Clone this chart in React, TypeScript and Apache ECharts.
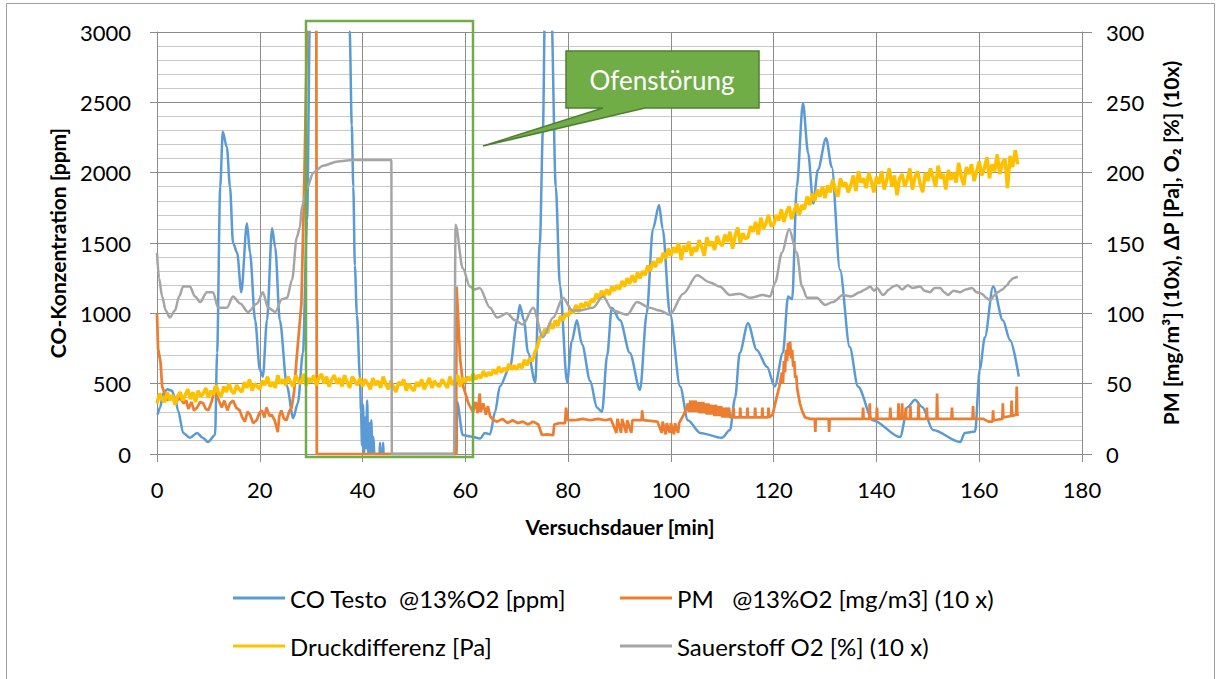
import React, { useEffect, useRef } from 'react';
import * as echarts from 'echarts';

// ---------- data (x = Versuchsdauer [min]) ----------
const seriesNames = [
  'CO Testo  @13%O2 [ppm]',
  'PM   @13%O2 [mg/m3] (10 x)',
  'Druckdifferenz [Pa]',
  'Sauerstoff O2 [%] (10 x)',
];
const seriesColors = ['#5B9BD5', '#ED7D31', '#FFC000', '#A5A5A5'];

const xTicks = { min: 0, max: 180, interval: 20 };
const leftTicks = { min: 0, max: 3000, interval: 500 };
const rightTicks = { min: 0, max: 300, interval: 50 };

// CO [ppm] (left axis); values above 3000 leave the plot
const coTesto: [number, number][] = [
  [0.1, 280], [0.6, 330], [1.2, 430], [2.0, 460], [2.9, 450], [3.5, 400], [4.1, 310], [5.1, 150],
  [6.4, 115], [7.8, 150], [8.9, 115], [9.9, 85], [11.3, 135], [11.7, 720], [12.3, 1900], [12.8, 2290],
  [13.6, 2180], [14.2, 1900], [14.8, 1500], [15.6, 1430], [16.4, 1150], [17.5, 1640], [18.1, 1430],
  [19.1, 950], [20.0, 600], [20.6, 550], [21.4, 950], [22.4, 1605], [23.0, 1470], [23.9, 950],
  [25.3, 480], [26.5, 255], [27.4, 360], [28.4, 720], [29.2, 1660], [29.8, 3200], [33.0, 3200],
  [37.2, 3200], [37.5, 3000], [37.9, 2340], [38.2, 1900], [38.5, 1340], [38.9, 990], [39.5, 540],
  [39.7, 300], [39.9, 60], [40.1, 350], [40.3, 0], [40.5, 260], [40.7, 40], [40.9, 380], [41.1, 0],
  [41.3, 220], [41.5, 0], [41.7, 240], [41.9, 0], [42.1, 120], [42.3, 0], [43.3, 0], [43.4, 80],
  [43.5, 0], [43.9, 0], [44.0, 80], [44.1, 0], [58.3, 0], [58.4, 370], [59.5, 135], [61.0, 125],
  [62.9, 110], [63.8, 150], [64.8, 140], [65.8, 300], [66.7, 480], [68.7, 620], [70.1, 950],
  [70.6, 1060], [71.4, 950], [72.2, 720], [73.6, 510], [74.5, 1500], [75.1, 2300], [75.5, 3200],
  [76.7, 3200], [77.6, 1900], [78.4, 1200], [79.8, 510], [80.7, 800], [81.7, 950], [82.7, 780],
  [84.3, 520], [85.6, 330], [86.6, 300], [87.6, 700], [88.5, 1040], [90.1, 950], [92.0, 720],
  [94.0, 455], [95.3, 1000], [96.5, 1600], [97.7, 1770], [98.4, 1600], [99.8, 1000], [101.8, 480],
  [103.3, 240], [105.7, 150], [109.9, 115], [111.5, 170], [112.5, 400], [113.4, 720], [115.0, 930],
  [116.7, 740], [118.7, 620], [120.2, 480], [121.8, 720], [122.8, 1120], [123.6, 1100], [124.5, 1900],
  [125.7, 2495], [126.7, 2140], [127.7, 1780], [128.6, 2020], [130.2, 2245], [131.3, 2040],
  [132.9, 1310], [134.8, 760], [136.4, 480], [139.3, 240], [144.6, 120], [146.1, 335], [147.5, 385],
  [148.9, 335], [151.0, 170], [156.3, 85], [157.2, 150], [159.2, 160], [160.1, 600], [161.1, 830],
  [162.7, 1190], [164.6, 950], [166.0, 810], [167.7, 550],
];

// PM x10 (right axis)
const pm: [number, number][] = [
  [0, 100], [0.2, 75], [0.7, 65], [1.0, 48], [1.3, 45], [2.0, 38], [2.5, 41], [3.2, 40], [3.7, 37],
  [4.4, 40], [5.2, 36], [5.7, 38], [6.1, 32], [6.7, 37], [7.2, 31], [7.8, 33], [8.4, 37], [9.0, 36],
  [9.5, 32], [10.0, 31], [10.7, 38], [11.3, 48], [11.8, 40], [12.6, 33], [13.1, 38], [13.7, 31],
  [14.2, 36], [14.8, 38], [15.4, 33], [16.1, 31], [16.6, 26], [17.1, 23], [17.6, 30], [18.1, 28],
  [18.7, 22], [19.4, 24], [19.9, 29], [20.4, 31], [20.9, 26], [21.3, 33], [21.9, 27], [22.3, 28],
  [22.9, 24], [23.5, 15.6], [23.8, 27], [24.2, 31], [24.7, 25], [25.2, 24], [25.7, 30], [26.2, 33],
  [26.7, 45], [27.1, 65], [27.7, 90], [28.1, 107], [28.7, 200], [29.3, 320], [31.0, 320], [31.1, 0],
  [58.2, 0], [58.3, 119], [59.0, 67], [59.6, 48], [60.6, 36], [61.5, 30], [62.0, 37], [62.4, 29],
  [62.8, 43], [63.0, 30], [63.5, 36], [64.0, 28], [64.4, 34], [64.8, 27], [65.5, 24], [66.2, 23],
  [67.2, 25], [68.2, 22], [69.2, 24], [70.2, 22], [71.2, 23], [72.2, 21], [73.2, 23], [74.2, 21],
  [74.9, 13.5], [75.8, 14], [77.1, 13.5], [77.3, 21], [78.3, 22], [79.4, 22], [79.6, 33], [79.9, 24],
  [81.3, 24], [82.8, 25], [84.3, 24], [85.8, 25], [87.3, 24], [88.3, 25], [89.4, 15], [89.6, 25],
  [90.3, 15], [90.5, 25], [91.3, 15], [91.5, 24], [92.3, 15], [92.5, 24], [94.3, 24], [94.4, 31],
  [94.6, 24], [97.4, 23], [98.2, 15], [98.4, 23], [99.0, 14], [99.2, 22], [99.8, 15], [100.0, 22],
  [100.6, 14], [100.8, 22], [101.4, 15], [101.6, 22], [102.5, 28], [103.1, 33], [103.3, 36],
  [103.5, 30], [103.8, 38], [104.0, 30], [104.3, 38], [104.5, 30], [104.8, 38], [105.0, 30],
  [105.3, 37], [105.5, 29], [105.8, 37], [106.0, 29], [106.3, 37], [106.5, 29], [106.8, 36],
  [107.0, 28], [107.3, 36], [107.5, 28], [107.8, 35], [108.0, 28], [108.3, 35], [108.5, 27],
  [108.8, 35], [109.0, 27], [109.3, 34], [109.5, 27], [109.8, 34], [110.0, 26], [110.3, 33],
  [110.5, 26], [110.8, 33], [111.0, 26], [111.3, 33], [111.5, 26], [112.1, 26], [112.2, 33],
  [112.3, 26], [113.4, 26], [113.5, 33], [113.6, 26], [114.8, 26], [114.9, 33], [115.0, 26],
  [116.3, 26], [116.4, 33], [116.5, 26], [117.7, 26], [117.8, 33], [117.9, 26], [118.9, 26],
  [119.0, 33], [119.1, 26], [119.8, 28], [120.3, 36], [121.1, 48], [121.6, 58], [121.8, 50],
  [122.0, 66], [122.2, 58], [122.4, 74], [122.6, 66], [122.8, 79], [123.0, 70], [123.2, 80],
  [123.4, 68], [123.6, 74], [123.8, 62], [124.0, 66], [124.2, 54], [124.4, 56], [124.6, 46],
  [125.1, 36], [125.6, 30], [126.1, 26], [127.1, 25], [128.0, 25], [128.1, 15.6], [128.2, 25],
  [130.7, 25], [130.8, 15.6], [130.9, 25], [137.3, 25], [137.4, 33], [137.5, 25], [138.6, 25],
  [138.7, 36], [138.8, 25], [140.0, 25], [140.1, 33], [140.2, 25], [142.6, 25], [142.7, 33],
  [142.8, 25], [144.2, 25], [144.3, 36], [144.4, 25], [144.9, 25], [145.0, 36], [145.1, 25],
  [145.6, 25], [145.7, 33], [145.8, 25], [146.5, 25], [146.6, 34], [146.7, 25], [148.1, 25],
  [148.2, 36], [148.3, 25], [149.7, 25], [149.8, 33], [149.9, 25], [151.7, 25], [151.8, 43],
  [151.9, 25], [154.6, 25], [154.7, 33], [154.8, 25], [158.7, 25], [158.8, 34], [158.9, 25],
  [160.8, 25], [161.8, 23], [162.6, 23], [162.7, 31], [162.8, 24], [164.5, 25], [164.6, 36],
  [164.7, 26], [166.2, 27], [166.3, 38], [166.4, 27], [167.2, 28], [167.3, 48], [167.4, 28],
  [167.7, 28],
];

// Druckdifferenz [Pa] (right axis), one reading every 0.5 min from 0 min
const druckStep = 0.5;
const druck: number[] = [
  36, 43, 39, 37, 44, 38, 42, 35, 41, 44,
  38, 42, 46, 39, 44, 37, 45, 41, 43, 47,
  40, 45, 42, 49, 43, 41, 48, 44, 50, 45,
  43, 49, 46, 44, 51, 47, 53, 45, 50, 48,
  46, 52, 49, 55, 48, 51, 47, 56, 50, 53,
  49, 55, 51, 48, 56, 52, 50, 57, 49, 54,
  51, 56, 49, 54, 57, 50, 55, 48, 53, 56,
  50, 54, 48, 56, 51, 47, 55, 52, 49, 54,
  48, 53, 50, 46, 54, 49, 52, 47, 55, 50,
  46, 52, 48, 44, 51, 49, 53, 45, 50, 47,
  45, 51, 48, 53, 46, 50, 54, 47, 52, 49,
  48, 53, 50, 47, 55, 49, 52, 56, 48, 54,
  51, 55, 52, 57, 53, 56, 54, 59, 55, 58,
  56, 60, 57, 62, 58, 61, 59, 64, 60, 63,
  60, 64, 61, 67, 63, 68, 66, 72, 76, 83,
  84, 89, 86, 93, 89, 95, 91, 98, 95, 100,
  98, 103, 100, 106, 101, 107, 104, 108, 105, 110,
  108, 114, 110, 116, 112, 117, 113, 119, 116, 120,
  117, 123, 119, 125, 121, 127, 122, 129, 125, 130,
  127, 134, 130, 137, 133, 139, 136, 143, 139, 146,
  141, 147, 143, 150, 138, 148, 144, 151, 141, 147,
  144, 152, 147, 141, 154, 148, 151, 145, 155, 150,
  148, 156, 151, 158, 146, 155, 161, 150, 157, 153,
  154, 162, 158, 165, 156, 168, 160, 164, 170, 162,
  163, 170, 166, 174, 165, 172, 176, 167, 173, 178,
  170, 177, 174, 183, 177, 185, 180, 188, 183, 190,
  182, 191, 186, 195, 188, 183, 196, 190, 193, 186,
  191, 198, 187, 201, 193, 196, 189, 200, 194, 186,
  197, 192, 201, 188, 195, 203, 190, 198, 184, 196,
  199, 190, 195, 203, 188, 197, 201, 192, 186, 200,
  194, 203, 197, 190, 205, 196, 199, 188, 202, 195,
  200, 193, 207, 197, 191, 204, 199, 206, 194, 201,
  208, 198, 203, 211, 196, 206, 201, 213, 199, 207,
  210, 189, 212, 204, 216, 206,
];

// Sauerstoff O2 x10 (right axis)
const sauerstoff: [number, number][] = [
  [0, 143], [0.4, 125], [1.0, 112], [1.7, 102], [2.5, 97], [3.5, 102], [4.3, 112], [5.1, 119],
  [6.4, 119], [7.4, 112], [8.4, 108], [9.7, 115], [10.9, 115], [11.9, 104], [13.6, 104], [14.8, 112],
  [16.2, 107], [17.7, 101], [19.5, 107], [20.6, 115], [21.6, 104], [23.0, 101], [24.3, 110],
  [25.3, 111], [26.3, 124], [27.2, 154], [27.8, 161], [28.2, 176], [29.2, 189], [30.4, 200],
  [32.3, 205], [35.2, 208], [38.0, 209], [45.6, 209], [45.7, 0], [57.8, 0], [58.1, 163], [59.5, 132],
  [60.9, 119], [61.8, 117], [62.8, 118], [64.8, 104], [66.2, 97], [68.1, 100], [69.7, 95], [71.2, 92],
  [73.2, 104], [75.1, 83], [77.1, 97], [79.0, 111], [80.8, 102], [82.3, 102], [84.8, 104],
  [86.8, 112], [88.7, 102], [91.5, 99], [93.4, 108], [95.9, 104], [97.8, 102], [99.8, 99],
  [102.4, 114], [105.1, 127], [107.6, 122], [109.5, 119], [111.5, 113], [113.4, 114], [115.4, 111],
  [117.9, 113], [119.3, 112], [120.3, 122], [121.6, 143], [123.0, 160], [124.5, 143], [125.5, 119],
  [126.5, 111], [128.4, 111], [130.0, 106], [131.5, 108], [133.5, 113], [135.0, 112], [136.8, 115],
  [137.8, 117], [138.8, 119], [139.5, 116], [140.1, 118], [141.3, 113], [142.5, 117], [143.2, 119],
  [144.0, 120], [145.0, 117], [146.1, 120], [147.0, 118], [148.5, 119], [149.4, 116], [150.4, 115],
  [151.3, 118], [152.4, 118], [153.2, 115], [153.9, 113], [155.0, 116], [156.3, 115], [157.4, 117],
  [158.6, 118], [159.5, 115], [160.5, 114], [161.4, 111], [162.1, 109], [163.0, 113], [163.6, 115],
  [164.5, 117], [165.4, 120], [166.0, 123], [166.6, 125], [167.5, 126],
];

const leftTitle = 'CO-Konzentration [ppm]';
const rightTitle = 'PM [mg/m³] (10x), ΔP [Pa], O₂ [%] (10x)';
const xTitle = 'Versuchsdauer [min]';
const calloutText = 'Ofenstörung';

const FONT = 'Lato, "Open Sans", sans-serif';
const GRID_MAJOR = '#8C8C8C';
const GRID_MINOR = '#C9C9C9';

export default function App() {
  const ref = useRef<HTMLDivElement | null>(null);

  useEffect(() => {
    if (!ref.current) return;
    const chart = echarts.init(ref.current, undefined, { renderer: 'svg' });

    const druckData = druck.map((v, i) => [i * druckStep, v]);
    const plain = (v: number) => String(v);

    const legendPos = [
      { left: 233, top: 586 },
      { left: 620, top: 586 },
      { left: 233, top: 634 },
      { left: 620, top: 634 },
    ];

    const option: any = {
      animation: false,
      backgroundColor: '#ffffff',
      grid: { left: 157, right: 136, top: 32, bottom: 225, containLabel: false },
      xAxis: {
        type: 'value',
        min: xTicks.min,
        max: xTicks.max,
        interval: xTicks.interval,
        axisLine: { show: true, lineStyle: { color: GRID_MAJOR, width: 1 } },
        axisTick: { show: true, length: 8, lineStyle: { color: GRID_MAJOR } },
        axisLabel: { fontSize: 22, fontFamily: FONT, color: '#000', margin: 24, formatter: plain },
        splitLine: { show: true, lineStyle: { color: GRID_MAJOR, width: 1 } },
      },
      yAxis: [
        {
          type: 'value',
          position: 'left',
          min: leftTicks.min,
          max: leftTicks.max,
          interval: leftTicks.interval,
          axisLine: { show: true, lineStyle: { color: GRID_MAJOR } },
          axisTick: { show: true, length: 7, lineStyle: { color: GRID_MAJOR } },
          minorTick: { show: false, splitNumber: 5 },
          axisLabel: { fontSize: 22, fontFamily: FONT, color: '#000', margin: 26, formatter: plain },
          splitLine: { show: true, lineStyle: { color: GRID_MAJOR, width: 1 } },
          minorSplitLine: { show: true, lineStyle: { color: GRID_MINOR, width: 1 } },
        },
        {
          type: 'value',
          position: 'right',
          min: rightTicks.min,
          max: rightTicks.max,
          interval: rightTicks.interval,
          axisLine: { show: true, lineStyle: { color: GRID_MAJOR } },
          axisTick: { show: true, length: 10, lineStyle: { color: GRID_MAJOR } },
          axisLabel: { fontSize: 22, fontFamily: FONT, color: '#000', margin: 24, formatter: plain },
          splitLine: { show: false },
        },
      ],
      legend: seriesNames.map((name, i) => ({
        data: [name],
        left: legendPos[i].left,
        top: legendPos[i].top,
        orient: 'horizontal',
        icon: 'rect',
        itemWidth: 52,
        itemHeight: 3,
        selectedMode: false,
        padding: 0,
        textStyle: { fontSize: 24, fontFamily: FONT, color: '#000' },
      })),
      series: [
        {
          name: seriesNames[0], type: 'line', yAxisIndex: 0, data: coTesto,
          showSymbol: false, symbol: 'none', clip: true, z: 2,
          smooth: 0.3, smoothMonotone: 'x',
          lineStyle: { color: seriesColors[0], width: 2.5 }, itemStyle: { color: seriesColors[0] },
        },
        {
          name: seriesNames[1], type: 'line', yAxisIndex: 1, data: pm,
          showSymbol: false, symbol: 'none', clip: true, z: 3,
          lineStyle: { color: seriesColors[1], width: 2.75 }, itemStyle: { color: seriesColors[1] },
        },
        {
          name: seriesNames[2], type: 'line', yAxisIndex: 1, data: druckData,
          showSymbol: false, symbol: 'none', clip: true, z: 4,
          lineStyle: { color: seriesColors[2], width: 3.5 }, itemStyle: { color: seriesColors[2] },
        },
        {
          name: seriesNames[3], type: 'line', yAxisIndex: 1, data: sauerstoff,
          showSymbol: false, symbol: 'none', clip: true, z: 5,
          smooth: 0.3, smoothMonotone: 'x',
          lineStyle: { color: seriesColors[3], width: 2.5 }, itemStyle: { color: seriesColors[3] },
        },
      ],
      graphic: [
        {
          type: 'rect', z: 0, silent: true,
          shape: { x: 6.5, y: 3.5, width: 1208, height: 700 },
          style: { fill: 'none', stroke: '#A0A0A0', lineWidth: 1 },
        },
        {
          type: 'rect', z: 100, silent: true,
          shape: { x: 306, y: 21, width: 167, height: 436 },
          style: { fill: 'none', stroke: '#70AD47', lineWidth: 2.5 },
        },
        {
          type: 'polygon', z: 100, silent: true,
          shape: { points: [[566, 51], [759, 51], [759, 108], [645, 108], [483, 146], [603, 108], [566, 108]] },
          style: { fill: '#70AD47', stroke: '#507E32', lineWidth: 1.5 },
        },
        {
          type: 'text', z: 101, silent: true, x: 662, y: 80,
          style: {
            text: calloutText, fill: '#ffffff', fontSize: 26, fontFamily: FONT,
            align: 'center', verticalAlign: 'middle', textAlign: 'center', textVerticalAlign: 'middle',
          },
        },
        {
          type: 'text', z: 50, silent: true, x: 57, y: 243, rotation: Math.PI / 2,
          style: {
            text: leftTitle, fill: '#000', fontSize: 21, fontWeight: 'bold', fontFamily: FONT,
            align: 'center', verticalAlign: 'middle', textAlign: 'center', textVerticalAlign: 'middle',
          },
        },
        {
          type: 'text', z: 50, silent: true, x: 1170, y: 243, rotation: Math.PI / 2,
          style: {
            text: rightTitle, fill: '#000', fontSize: 21, fontWeight: 'bold', fontFamily: FONT,
            align: 'center', verticalAlign: 'middle', textAlign: 'center', textVerticalAlign: 'middle',
          },
        },
        {
          type: 'text', z: 50, silent: true, x: 620, y: 526,
          style: {
            text: xTitle, fill: '#000', fontSize: 21, fontWeight: 'bold', fontFamily: FONT,
            align: 'center', verticalAlign: 'middle', textAlign: 'center', textVerticalAlign: 'middle',
          },
        },
      ],
    };

    chart.setOption(option);
    return () => chart.dispose();
  }, []);

  return (
    <div
      ref={ref}
      style={{ position: 'fixed', left: 0, top: 0, width: 1218, height: 679, background: '#fff' }}
    />
  );
}
